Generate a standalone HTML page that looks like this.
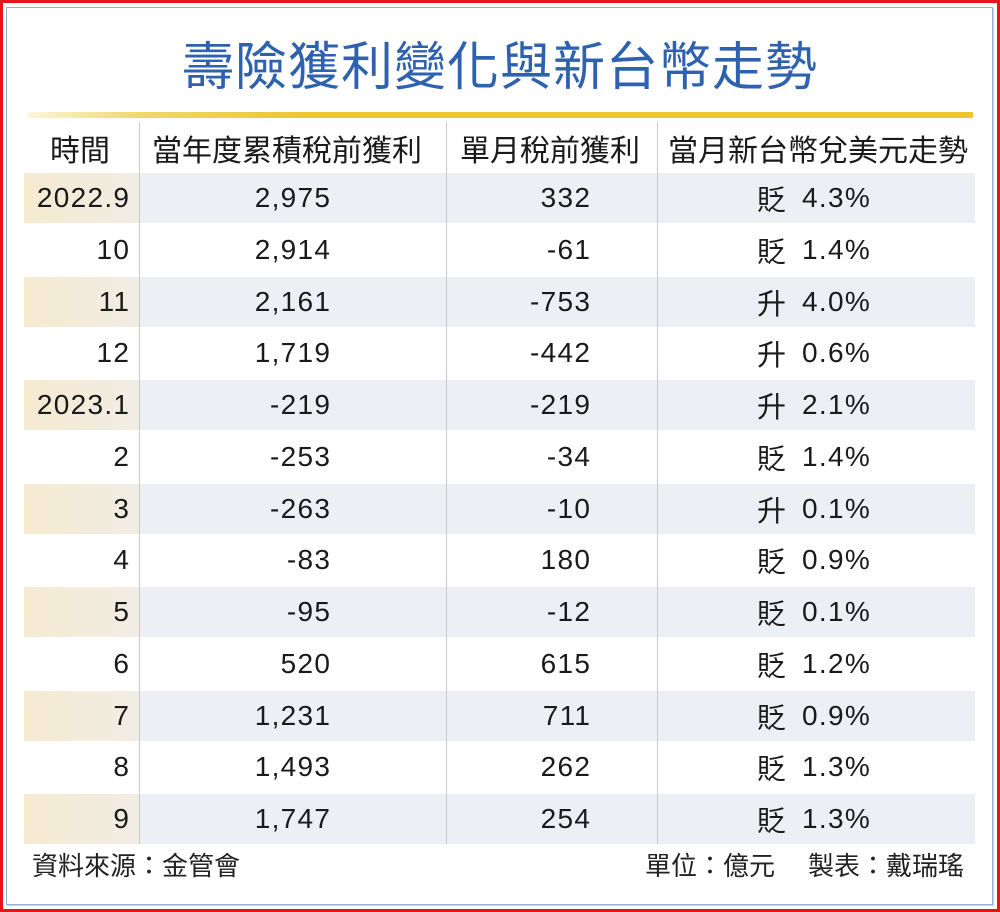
<!DOCTYPE html>
<html><head><meta charset="utf-8"><style>
body{margin:0;width:1000px;height:912px;background:#fff;position:relative;overflow:hidden;font-family:"Liberation Sans","Noto Sans CJK TC",sans-serif;}
.red{position:absolute;left:0;top:0;width:994px;height:906px;border:3px solid #e8141b;}
.panel{position:absolute;left:6px;top:7px;width:985px;height:896px;border:1px solid #9bb0c8;box-shadow:1px 1px 0 #c8d4e2;}
.title{position:absolute;left:0;width:1000px;top:30px;text-align:center;font-size:52px;color:#2f62ae;font-family:"Noto Sans CJK TC",sans-serif;font-weight:400;letter-spacing:1px;line-height:66px;}
.gold{position:absolute;left:28px;top:112px;width:945px;height:6px;background:linear-gradient(90deg,#fbf6e0 0%,#f0d868 12%,#e9c72e 30%,#e9c72e 100%);}
.row{position:absolute;left:24px;width:951px;height:50px;}
.sh{background:#eceff3;}
.sh .c1{position:absolute;left:0;top:0;width:115px;height:50px;background:linear-gradient(90deg,#f6ead0,#f1ede5);}
.t{position:absolute;font-size:28px;letter-spacing:1.3px;color:#1a1a1a;line-height:50px;white-space:nowrap;}
.r{margin-right:-1.3px;}
.h{font-family:"Noto Sans CJK TC",sans-serif;font-size:30px;letter-spacing:0;}
.vl{position:absolute;top:122px;height:722px;width:1px;background:#c9c9c9;}
.f{position:absolute;top:850px;font-size:26px;color:#222;font-family:"Noto Sans CJK TC",sans-serif;line-height:30px;white-space:nowrap;}
</style></head><body>
<div class="red"></div><div class="panel"></div>
<div class="title">壽險獲利變化與新台幣走勢</div>
<div class="gold"></div>
<div id="rows"></div>
<div class="vl" style="left:139px"></div>
<div class="vl" style="left:446px"></div>
<div class="vl" style="left:657px"></div>
<div class="t h" style="left:50px;top:123px">時間</div>
<div class="t h" style="left:152px;top:123px">當年度累積稅前獲利</div>
<div class="t h" style="left:460px;top:123px">單月稅前獲利</div>
<div class="t h" style="left:668px;top:123px">當月新台幣兌美元走勢</div>
<div class="f" style="left:32px">資料來源：金管會</div>
<div class="f" style="left:645px">單位：億元</div>
<div class="f" style="left:808px">製表：戴瑞瑤</div>
<script>
var d=[["2022.9","2,975","332","貶","4.3%"],["10","2,914","-61","貶","1.4%"],["11","2,161","-753","升","4.0%"],["12","1,719","-442","升","0.6%"],["2023.1","-219","-219","升","2.1%"],["2","-253","-34","貶","1.4%"],["3","-263","-10","升","0.1%"],["4","-83","180","貶","0.9%"],["5","-95","-12","貶","0.1%"],["6","520","615","貶","1.2%"],["7","1,231","711","貶","0.9%"],["8","1,493","262","貶","1.3%"],["9","1,747","254","貶","1.3%"]];
var h="";
d.forEach(function(r,i){var y=173+i*51.75;
h+='<div class="row'+(i%2==0?' sh':'')+'" style="top:'+y+'px"><div class="c1"></div></div>';
var ty=y;
h+='<div class="t r" style="right:'+(1000-129)+'px;top:'+ty+'px">'+r[0]+'</div>';
h+='<div class="t r" style="right:'+(1000-330)+'px;top:'+ty+'px">'+r[1]+'</div>';
h+='<div class="t r" style="right:'+(1000-590)+'px;top:'+ty+'px">'+r[2]+'</div>';
h+='<div class="t h" style="left:757px;top:'+ty+'px;font-size:29px">'+r[3]+'</div>';
h+='<div class="t" style="left:802px;top:'+ty+'px">'+r[4]+'</div>';
});
document.getElementById("rows").innerHTML=h;
</script>
</body></html>
